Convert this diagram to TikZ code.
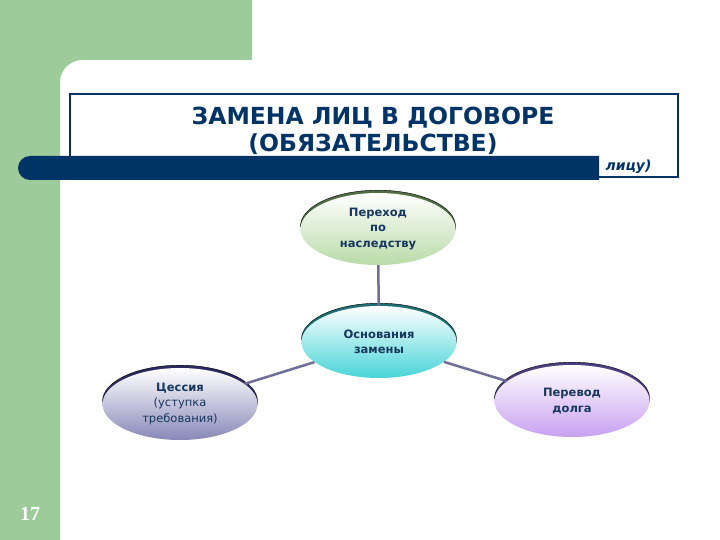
\documentclass[tikz,border=0pt]{standalone}
\usepackage{fontspec}
\setmainfont{DejaVu Sans}
\newfontfamily\numfont{Liberation Serif}
\usetikzlibrary{shapes.geometric,shadows}
\definecolor{bggreen}{HTML}{9DCB9A}
\definecolor{navy}{HTML}{003366}
\definecolor{txtblue}{HTML}{17375E}
\definecolor{linkc}{HTML}{6E6E98}
\definecolor{greenF}{HTML}{B9DBA8}
\definecolor{greenR}{HTML}{4E6E44}
\definecolor{cyanF}{HTML}{48D4D8}
\definecolor{cyanR}{HTML}{1E6E74}
\definecolor{blueF}{HTML}{8888B8}
\definecolor{blueR}{HTML}{2A2A5E}
\definecolor{purpF}{HTML}{C8A0F0}
\definecolor{purpR}{HTML}{4E3E82}
\tikzset{
  oval/.style={ellipse, minimum width=155pt, minimum height=72pt, inner sep=0pt,
    align=center, text=txtblue, font=\fontsize{11.5}{15.5}\selectfont\bfseries,
    shading angle=45},
  link/.style={draw=linkc, line width=2.5pt},
}
\begin{document}
\begin{tikzpicture}[x=1pt,y=-1pt]
\useasboundingbox (0,0) rectangle (720,540);
\fill[white] (0,0) rectangle (720,540);
% green frame
\fill[bggreen] (0,0) -- (252,0) -- (252,60) -- (82,60) .. controls (70,60) and (60,70) .. (60,82) -- (60,540) -- (0,540) -- cycle;
% title box
\draw[navy, line width=2pt] (70,94) rectangle (678,177);
\node[text=navy, font=\fontsize{23.5}{27}\selectfont\bfseries, align=center] (title) at (373,130.5) {ЗАМЕНА ЛИЦ В ДОГОВОРЕ\\(ОБЯЗАТЕЛЬСТВЕ)};
% blue bar
\fill[navy] (599,156) -- (30,156) arc[start angle=-90,end angle=-270,radius=12] -- (599,180) -- cycle;
\node[text=navy, font=\fontsize{14}{16}\selectfont\bfseries\itshape, anchor=west] (tail) at (602,167) {лицу)};
% number
\node[text=white, font=\numfont\fontsize{20}{24}\selectfont\bfseries] (num) at (30,514) {17};
% ovals
\node[oval, top color=white, bottom color=greenF, copy shadow={shadow xshift=0pt, shadow yshift=2.8pt, fill=greenR}] (top) at (378,229) {Переход\\по\\наследству};
\node[oval, top color=white, bottom color=cyanF, copy shadow={shadow xshift=0pt, shadow yshift=2.8pt, fill=cyanR}] (mid) at (379,342) {Основания\\замены};
\node[oval, top color=white, bottom color=blueF, copy shadow={shadow xshift=0pt, shadow yshift=2.8pt, fill=blueR}] (left) at (180,404) {Цессия\\{\mdseries (уступка}\\{\mdseries требования)}};
\node[oval, top color=white, bottom color=purpF, copy shadow={shadow xshift=0pt, shadow yshift=2.8pt, fill=purpR}] (right) at (572,401) {Перевод\\долга};
% connectors
\draw[link] (top) -- (mid);
\draw[link] (mid) -- (left);
\draw[link] (mid) -- (right);
\end{tikzpicture}
\end{document}
